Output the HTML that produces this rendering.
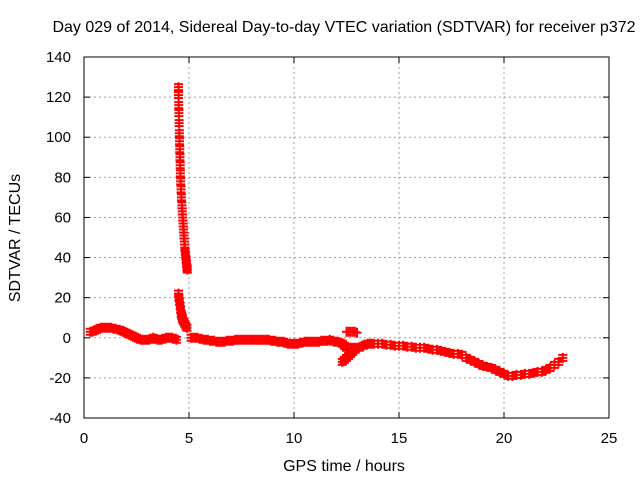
<!DOCTYPE html>
<html><head><meta charset="utf-8"><style>
body{margin:0;background:#fff}
svg{display:block;font-family:"Liberation Sans",sans-serif}
</style></head><body>
<svg id="chart" width="640" height="480">
<text x="344" y="32" font-size="16" text-anchor="middle">Day 029 of 2014, Sidereal Day-to-day VTEC variation (SDTVAR) for receiver p372</text>
<text x="344" y="471" font-size="16" text-anchor="middle">GPS time / hours</text>
<text transform="translate(20,238) rotate(-90)" font-size="16" text-anchor="middle">SDTVAR / TECUs</text>
<g id="grid"></g><g id="marks"></g>
<rect x="84" y="57" width="525" height="361" fill="none" stroke="#000" stroke-width="1"/>
</svg>
<script>
const xTicks=[0,5,10,15,20,25];
const yTicks=[-40,-20,0,20,40,60,80,100,120,140];
const hoursA=[0.3,0.4,0.5,0.6,0.7,0.8,0.9,1.0,1.1,1.2,1.3,1.4,1.5,1.6,1.7,1.8,1.9,2.0,2.1,2.2,2.3,2.4,2.5,2.6,2.7,2.8,2.9,3.0,3.1,3.2,3.3,3.4,3.5,3.6,3.7,3.8,3.9,4.0,4.1,4.2,4.3,4.4];
const valuesA=[3,3,3.5,4,4.5,5,5,5,5,5,5,4.5,4.5,4,4,3.5,3,2.5,2,1.5,1,0.5,0,-0.5,-1,-1,-1,-1,-1,-0.5,0,-0.5,-1,-1,-1,-0.5,0,0,0,0,-0.5,-1];
const hoursSpike=[4.5,4.5,4.51,4.52,4.53,4.54,4.55,4.56,4.57,4.58,4.59,4.6,4.62,4.64,4.66,4.68,4.7,4.72,4.74,4.76,4.78,4.8,4.82,4.84,4.86,4.88,4.9,4.92];
const valuesSpike=[125,121,116,112,107,102,98,94,90,86,82,78,74,70,66,63,60,57,54,51,48,45,43,41,39,37,35,34];
const hoursLow=[4.5,4.52,4.55,4.58,4.6,4.63,4.65,4.68,4.7,4.75,4.8,4.85,4.9];
const valuesLow=[22,20,18,16,14,12,11,10,9,8,7,6,5];
const hoursB=[5.1,5.2,5.3,5.4,5.5,5.6,5.7,5.8,5.9,6.0,6.1,6.2,6.3,6.4,6.5,6.6,6.7,6.8,6.9,7.0,7.1,7.2,7.3,7.4,7.5,7.6,7.7,7.8,7.9,8.0,8.1,8.2,8.3,8.4,8.5,8.6,8.7,8.8,8.9,9.0,9.1,9.2,9.3,9.4,9.5,9.6,9.7,9.8,9.9,10.0,10.1,10.2,10.3,10.4,10.5,10.6,10.7,10.8,10.9,11.0,11.1,11.2,11.3,11.4,11.5,11.6,11.7,11.8,11.9,12.0,12.1,12.2,12.3,12.4,12.5,12.6,12.7,12.8,12.9,13.0,13.1];
const valuesB=[0,0,0,0,-0.5,-0.5,-1,-1,-1,-1.5,-1.5,-1.5,-2,-2,-2,-2,-2,-1.5,-1.5,-1.5,-1.5,-1,-1,-1,-1,-1,-1,-1,-1,-1,-1,-1,-1,-1,-1,-1,-1,-1,-1.5,-1.5,-1.5,-2,-2,-2,-2,-2.5,-3,-3,-3,-3,-3,-3,-2.5,-2.5,-2,-2,-2,-2,-2,-2,-2,-2,-1.5,-1.5,-1.5,-1.5,-1,-1.5,-2,-2,-2,-2.5,-3,-4,-5,-5,-5,-5,-5,-5,-5];
const hoursUp=[12.5,12.6,12.7,12.8,12.9,13.0];
const valuesUp=[3,3,3,3,3,2.5];
const hoursDiag=[12.3,12.4,12.5,12.6,12.7,12.8,12.9];
const valuesDiag=[-12,-11,-10,-9,-8,-7,-6];
const hoursC=[13.3,13.4,13.5,13.6,13.7,13.8,14.0,14.2,14.4,14.6,14.8,15.0,15.2,15.4,15.6,15.8,16.0,16.2,16.4,16.6,16.8,17.0,17.2,17.4,17.6,17.8,18.0,18.2,18.4,18.6,18.8,19.0,19.2,19.4,19.6,19.8,20.0,20.2,20.4,20.6,20.8,21.0,21.2,21.4,21.6,21.8,22.0,22.2,22.4,22.6,22.8];
const valuesC=[-4,-3.5,-3,-3,-3,-3,-3,-3,-3.5,-3.5,-4,-4,-4,-4.5,-4.5,-5,-5,-5,-5.5,-6,-6,-6.5,-7,-7.5,-8,-8,-8.5,-10,-11,-12,-13,-14,-14.5,-15,-16,-17,-18,-19,-19,-18.5,-18.5,-18,-18,-17.5,-17,-17,-16,-15,-13.5,-12,-10];

const NS='http://www.w3.org/2000/svg';
const X0=84,X1=609,Y0=418,Y1=57;
function xs(v){return X0+(v-0)/(25-0)*(X1-X0);}
function ys(v){return Y0-(v+40)/(180)*(Y0-Y1);}
const grid=document.getElementById('grid'),marks=document.getElementById('marks');
function mk(tag,attrs,parent){const e=document.createElementNS(NS,tag);for(const k in attrs)e.setAttribute(k,attrs[k]);parent.appendChild(e);return e;}
xTicks.forEach(t=>{
  const x=xs(t);
  if(t>0&&t<25){const g=mk('line',{x1:x,x2:x,y1:Y1,y2:Y0,stroke:'#a0a0a0','stroke-dasharray':'2,3'},grid);
  
  }
  mk('line',{x1:x,x2:x,y1:Y0,y2:Y0-6,stroke:'#000'},grid);
  mk('line',{x1:x,x2:x,y1:Y1,y2:Y1+6,stroke:'#000'},grid);
  const l=mk('text',{x:x,y:Y0+25,'font-size':15,'text-anchor':'middle'},grid);l.textContent=t;
  
  
});
yTicks.forEach(t=>{
  const y=ys(t);
  if(t>-40&&t<140){const g=mk('line',{x1:X0,x2:X1,y1:y,y2:y,stroke:'#a0a0a0','stroke-dasharray':'2,3'},grid);
  
  }
  mk('line',{x1:X0,x2:X0+6,y1:y,y2:y,stroke:'#000'},grid);
  mk('line',{x1:X1,x2:X1-6,y1:y,y2:y,stroke:'#000'},grid);
  const l=mk('text',{x:X0-13,y:y+5,'font-size':15,'text-anchor':'end'},grid);l.textContent=t;
  
  
});
function series(hs,vs,name,thick){
  const g=mk('g',{stroke:'#ff0000','stroke-width':2},marks);
  
  
  let d='';
  hs.forEach((h,i)=>{const x=xs(h),y=ys(vs[i]);
    d+=`M${x-4.5},${y}H${x+4.5}M${x},${y-5}V${y+5}`;
    if(thick){d+=`M${x-4.5},${y-3}H${x+4.5}M${x-4.5},${y+3}H${x+4.5}`;}
  });
  mk('path',{d:d,fill:'none'},g);
}
series(hoursA,valuesA,'series-early',true);
series(hoursSpike,valuesSpike,'series-spike',true);
series(hoursLow,valuesLow,'series-spike-lower',true);
series(hoursB,valuesB,'series-midday',true);
series(hoursUp,valuesUp,'series-upper-branch',false);
series(hoursDiag,valuesDiag,'series-diagonal-branch',true);
series(hoursC,valuesC,'series-late',true);
</script>
</body></html>
